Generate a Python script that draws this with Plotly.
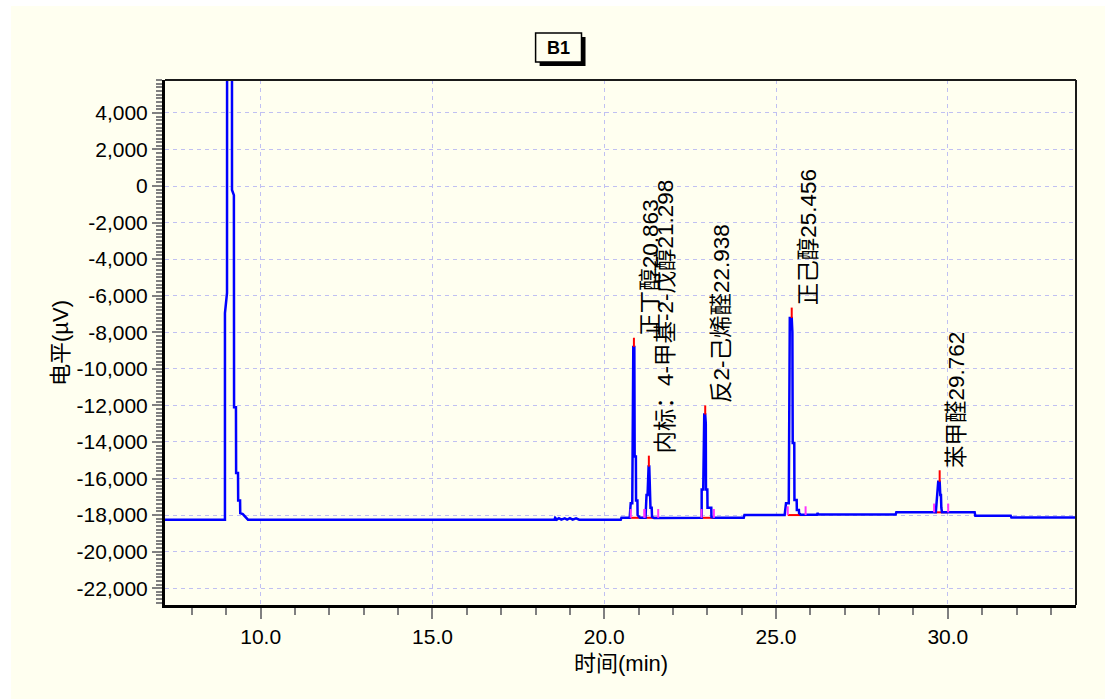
import plotly.graph_objects as go

# ---------------- data ----------------
time_min = [
    7.20, 8.96, 8.96, 9.02, 9.03, 9.16, 9.165, 9.22, 9.225, 9.28, 9.285, 9.34, 9.345, 9.40, 9.405, 9.48, 9.63,
    18.55, 18.57, 18.62, 18.68, 18.75, 18.85, 18.92, 19.00, 19.08, 19.18, 19.27,
    20.48, 20.50, 20.74,
    20.77, 20.80, 20.815, 20.845, 20.875, 20.885, 20.92, 20.925, 20.965, 20.97, 21.04,
    21.20, 21.23, 21.26, 21.265, 21.285, 21.29, 21.31, 21.325, 21.34, 21.345, 21.38, 21.39, 21.45,
    22.80, 22.835, 22.835, 22.88, 22.91, 22.938, 22.955, 22.96, 23.00, 23.005, 23.115, 23.12, 23.20,
    24.06, 24.08,
    25.25, 25.29, 25.37, 25.40, 25.456, 25.475, 25.485, 25.53, 25.535, 25.60, 25.605, 25.665, 25.67, 25.72,
    26.19, 26.21, 26.23,
    28.48, 28.50,
    29.65, 29.675, 29.69, 29.72, 29.762, 29.78, 29.80, 29.81, 29.83,
    30.78, 30.80, 31.83, 31.85, 33.80,
]
signal_uv = [
    -18250, -18250, -6950, -5850, 60000, 60000, -220, -500, -12100, -12100, -15700, -15700, -17200, -17200, -17900, -17950, -18250,
    -18250, -18150, -18250, -18170, -18250, -18180, -18250, -18170, -18250, -18180, -18250,
    -18250, -18150, -18150,
    -17350, -17350, -17350, -8800, -8800, -14800, -14800, -17200, -17200, -18000, -18150,
    -18150, -16900, -16900, -16250, -16250, -15350, -15350, -16250, -16250, -17600, -17600, -18100, -18160,
    -18150, -18150, -16600, -16600, -12500, -12500, -13000, -16600, -16600, -17600, -17600, -18120, -18150,
    -18150, -18000,
    -18000, -17350, -17350, -7220, -7220, -8000, -14060, -14060, -17180, -17180, -17720, -17720, -17900, -17980,
    -17980, -17880, -17970,
    -17970, -17850,
    -17850, -16900, -16900, -16180, -16180, -16900, -16900, -17600, -17850,
    -17850, -18040, -18040, -18140, -18140,
]

peak_names = ["正丁醇", "内标：4-甲基-2-戊醇", "反2-己烯醛", "正己醇", "苯甲醛"]
peak_rt = [20.863, 21.298, 22.938, 25.456, 29.762]
peak_apex_uv = [-8800, -15350, -12500, -7220, -16180]
peak_tip_uv = [-8300, -14750, -12000, -6650, -15550]
peak_start = [20.77, 21.17, 22.83, 25.34, 29.60]
peak_end = [21.17, 21.57, 23.19, 25.86, 30.01]
peak_base_uv = [-18150, -18150, -18150, -18000, -17850]
marker_height_uv = 480

y_tick_vals = [4000, 2000, 0, -2000, -4000, -6000, -8000, -10000, -12000,
               -14000, -16000, -18000, -20000, -22000]
y_tick_text = [f"{v:,}" for v in y_tick_vals]

x_range = [7.215, 33.73]
y_range = [-22920, 5800]

FONT = "Liberation Sans, Arial, Noto Sans CJK SC, sans-serif"
IVORY = "#FFFFF0"

fig = go.Figure()

# red baseline segments under integrated peaks
bx, by = [], []
for s, e, b in zip(peak_start, peak_end, peak_base_uv):
    bx += [s, e, None]
    by += [b, b, None]
fig.add_trace(go.Scatter(x=bx, y=by, mode="lines",
                         line=dict(color="#FF0000", width=2), hoverinfo="skip"))

# chromatogram
fig.add_trace(go.Scatter(x=time_min, y=signal_uv, mode="lines",
                         line=dict(color="#0000FF", width=2.5), hoverinfo="skip"))

# red apex marks
ax_, ay_ = [], []
for rt, a, t in zip(peak_rt, peak_apex_uv, peak_tip_uv):
    ax_ += [rt, rt, None]
    ay_ += [a, t, None]
fig.add_trace(go.Scatter(x=ax_, y=ay_, mode="lines",
                         line=dict(color="#FF0000", width=2), hoverinfo="skip"))

# magenta start/end marks
mx, my = [], []
for s, e, b in zip(peak_start, peak_end, peak_base_uv):
    for p in (s, e):
        mx += [p, p, None]
        my += [b, b + marker_height_uv, None]
fig.add_trace(go.Scatter(x=mx, y=my, mode="lines",
                         line=dict(color="#FF33FF", width=2), hoverinfo="skip"))

annotations = []
for name, rt, tip in zip(peak_names, peak_rt, peak_tip_uv):
    annotations.append(dict(
        x=rt, y=tip, xref="x", yref="y", text=f"{name}{rt:.3f}",
        textangle=-90, showarrow=False, xanchor="center", yanchor="bottom",
        xshift=17, yshift=0, font=dict(family=FONT, size=22.5, color="#000000"),
    ))

# axis titles
annotations.append(dict(x=0.5, y=-0.111, xref="paper", yref="paper", text="时间(min)",
                        showarrow=False, xanchor="center", yanchor="middle",
                        font=dict(family=FONT, size=22, color="#000000")))
annotations.append(dict(x=-0.1153, y=0.499, xref="paper", yref="paper", text="电平(µV)",
                        showarrow=False, xanchor="center", yanchor="middle", textangle=-90,
                        font=dict(family=FONT, size=22, color="#000000")))
# title box text
annotations.append(dict(x=0.432, y=1.061, xref="paper", yref="paper", text="<b>B1</b>",
                        showarrow=False, xanchor="center", yanchor="middle",
                        font=dict(family=FONT, size=18, color="#000000")))

shapes = [
    # ivory page background (white thin strip at top/left)
    dict(type="rect", xref="paper", yref="paper", x0=-0.169, x1=1.04, y0=-0.19, y1=1.141,
         fillcolor=IVORY, line=dict(width=0), layer="below"),
    # top and right frame lines
    dict(type="line", xref="paper", yref="paper", x0=0, x1=1, y0=1, y1=1,
         line=dict(color="#1A1A1A", width=2)),
    dict(type="line", xref="paper", yref="paper", x0=1, x1=1, y0=0, y1=1,
         line=dict(color="#1A1A1A", width=2)),
    # title box shadow + box
    dict(type="rect", xref="paper", yref="paper", x0=0.4112, x1=0.4616, y0=1.0267, y1=1.0819,
         fillcolor="#000000", line=dict(width=0)),
    dict(type="rect", xref="paper", yref="paper", x0=0.4068, x1=0.4572, y0=1.0343, y1=1.0895,
         fillcolor=IVORY, line=dict(color="#000000", width=1.5)),
]

fig.update_layout(
    width=1105, height=699, autosize=False,
    margin=dict(l=165, r=29, t=80, b=94),
    paper_bgcolor="#FFFFFF", plot_bgcolor=IVORY,
    showlegend=False,
    font=dict(family=FONT, color="#000000"),
    annotations=annotations,
    shapes=shapes,
    xaxis=dict(
        range=x_range, tickmode="linear", tick0=0, dtick=5, tickformat=".1f",
        ticks="outside", ticklen=11, tickwidth=2, tickcolor="#808080",
        showline=True, linewidth=3, linecolor="#000000",
        showgrid=True, gridcolor="#C0C0F2", gridwidth=1, griddash="4px,4px",
        zeroline=False, tickfont=dict(family=FONT, size=21, color="#000000"),
        minor=dict(tickmode="linear", tick0=0, dtick=1, ticks="outside", ticklen=7,
                   tickwidth=2, tickcolor="#808080", showgrid=False),
    ),
    yaxis=dict(
        range=y_range, tickmode="array", tickvals=y_tick_vals, ticktext=y_tick_text,
        ticks="outside", ticklen=10, tickwidth=2, tickcolor="#808080",
        showline=True, linewidth=3, linecolor="#000000",
        showgrid=True, gridcolor="#C0C0F2", gridwidth=1, griddash="4px,4px",
        zeroline=False, tickfont=dict(family=FONT, size=21, color="#000000"),
        minor=dict(tickmode="linear", tick0=0, dtick=200, ticks="outside", ticklen=6,
                   tickwidth=1.5, tickcolor="#808080", showgrid=False),
    ),
)

fig.write_html("out.html")
